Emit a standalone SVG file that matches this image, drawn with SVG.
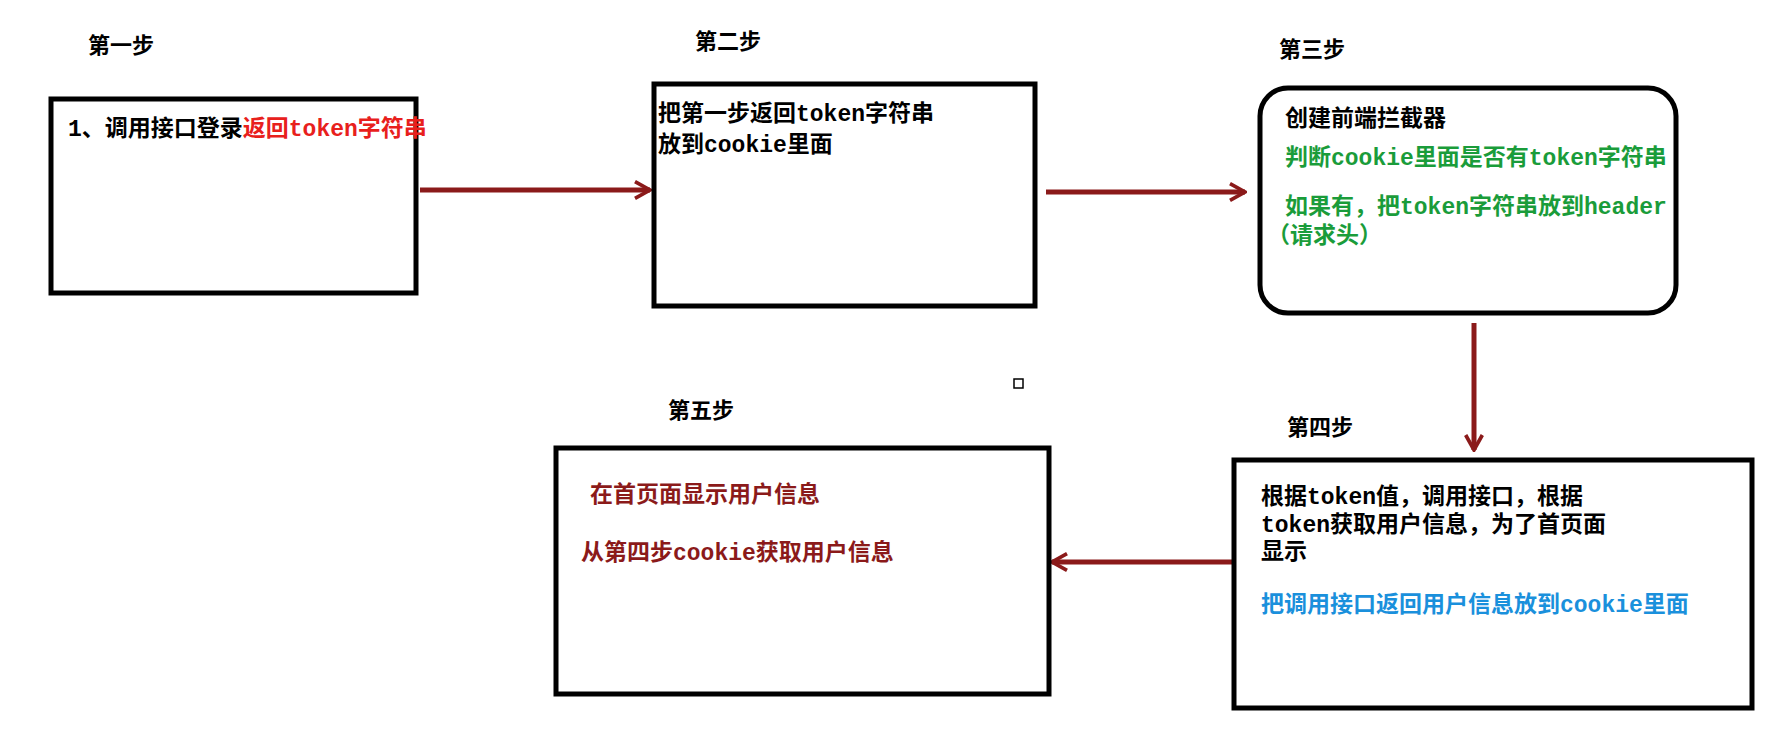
<svg xmlns="http://www.w3.org/2000/svg" width="1778" height="732" viewBox="0 0 1778 732">
<style>
text{font-family:"Liberation Mono","Noto Sans CJK SC",monospace;font-weight:bold;font-size:23px;fill:#000}
.lbl{font-size:22px}
.red{fill:#e8201c}.green{fill:#1a9c3a}.blue{fill:#1a90dc}.dred{fill:#8b1a1a}
.box{fill:#fff;stroke:#000;stroke-width:5}
.conn{stroke:#8b1a1a;stroke-width:5;fill:none;marker-end:url(#ah)}
</style>
<defs><marker id="ah" viewBox="0 0 12 12" refX="11" refY="6" markerWidth="4" markerHeight="4" orient="auto" markerUnits="strokeWidth"><path d="M2,1 L11,6 L2,11" fill="none" stroke="#8b1a1a" stroke-width="2.2"/></marker></defs>
<rect width="1778" height="732" fill="#fff"/>
<g id="connectors">
<line class="conn" x1="420" y1="190" x2="650" y2="190"/>
<line class="conn" x1="1046" y1="192" x2="1245" y2="192"/>
<line class="conn" x1="1474" y1="323" x2="1474" y2="450"/>
<line class="conn" x1="1234" y1="562" x2="1052" y2="562"/>
</g>
<g id="step1"><text class="lbl" x="88" y="53">第一步</text>
<rect class="box" x="51" y="99" width="365" height="194"/>
<text x="68" y="136">1、调用接口登录<tspan class="red">返回token字符串</tspan></text></g>
<g id="step2"><text class="lbl" x="695" y="49">第二步</text>
<rect class="box" x="654" y="84" width="381" height="222"/>
<text x="658" y="121">把第一步返回token字符串</text><text x="658" y="152">放到cookie里面</text></g>
<g id="step3"><text class="lbl" x="1279" y="57">第三步</text>
<rect class="box" x="1260" y="88" width="416" height="225" rx="28"/>
<text x="1285" y="126">创建前端拦截器</text>
<text class="green" x="1285" y="165">判断cookie里面是否有token字符串</text>
<text class="green" x="1285" y="214">如果有，把token字符串放到header</text>
<text class="green" x="1267" y="243">（请求头）</text></g>
<g id="step4"><text class="lbl" x="1287" y="435">第四步</text>
<rect class="box" x="1234" y="460" width="518" height="248"/>
<text x="1261" y="504">根据token值，调用接口，根据</text>
<text x="1261" y="532">token获取用户信息，为了首页面</text>
<text x="1261" y="559">显示</text>
<text class="blue" x="1261" y="612">把调用接口返回用户信息放到cookie里面</text></g>
<g id="step5"><text class="lbl" x="668" y="418">第五步</text>
<rect class="box" x="556" y="448" width="493" height="246"/>
<text class="dred" x="590" y="502">在首页面显示用户信息</text>
<text class="dred" x="581" y="560">从第四步cookie获取用户信息</text></g>
<rect x="1014" y="379" width="9" height="9" fill="none" stroke="#000" stroke-width="1.5"/>
</svg>
